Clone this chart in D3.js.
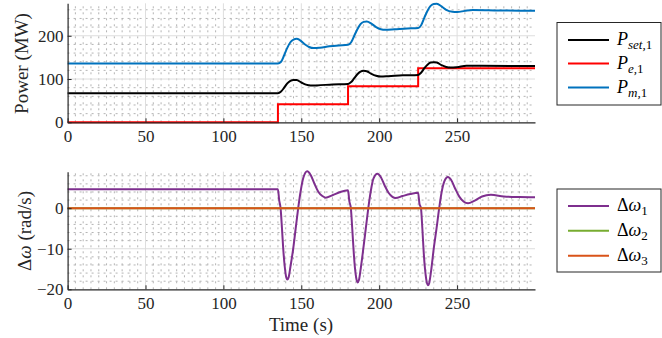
<!DOCTYPE html>
<html>
<head>
<meta charset="utf-8">
<script src="https://cdn.jsdelivr.net/npm/d3@7"></script>
<style>
  html, body { margin: 0; padding: 0; background: #fff; }
  svg { display: block; font-family: "Liberation Serif", "Times New Roman", serif; }
</style>
</head>
<body>
<svg id="chart" width="662" height="338"></svg>
<script>
// ---------------- DATA ----------------
const timeTicks = [0, 50, 100, 150, 200, 250];
const powerTicks = [0, 100, 200];
const omegaTicks = [-20, -10, 0];

// P_set,1 (black)
const pSet = [[0,67],[135,67],[137,71],[139,80],[141,90],[143,96],[145,98],[147,97.5],[150,92],[153,87],[156,85],[160,85.3],[170,87.5],[180,88.7],
  [182,93],[184,102],[186,111],[188,117],[190,119],[192,118],[195,112],[198,107.5],[201,105.6],[206,106.5],[215,108.5],[225,109.5],
  [227,115],[229,125],[231,133],[233,138],[235,139],[237,138],[240,132],[243,128],[246,126.4],[250,127.5],[256,130.8],[265,130.5],[300,130]];
// P_e,1 (red, steps)
const pE = [[0,0],[135,41.7],[180,83.3],[225,125],[300,125]];
// P_m,1 (blue)
const pM = [[0,136],[135,136],[137,140],[139,155],[141,172],[143,185],[145,191],[147,192.8],[149,190],[152,181],[155,174],[158,171.5],[162,172.5],[168,175.5],[174,177.5],[180,179],
  [182,185],[184,200],[186,215],[188,227],[190,232],[192,233],[195,228],[198,220],[201,215],[204,213.6],[210,215],[218,217],[225,218],
  [227,225],[229,242],[231,258],[233,269],[235,273.5],[237,274],[240,268],[243,260],[247,255.5],[250,254.8],[255,257.5],[260,259.5],[270,259],[280,258.2],[300,258]];
// Δω1 (purple)
const dw1 = [[0,4.7],[135,4.7],[135.8,2],[136.7,0],[137.6,-5],[138.4,-10],[139.4,-14.5],[140.2,-16.8],[141,-17.6],[141.9,-17],[143,-14.5],[144.8,-10],[146.4,-5],[148,0],[149.5,4],[151.3,7.5],[153.8,9.1],[156,8.2],[158.5,6],[161,4],[163.5,3],[165.6,2.6],[170,3.2],[175,4],[180,4.4],
  [180.8,1.8],[181.8,0],[182.7,-5],[183.5,-10],[184.4,-14.6],[185.2,-17.1],[186.1,-18.3],[187,-17.7],[188.1,-15],[189.8,-10],[191.4,-5],[193,0],[194.5,4],[196.3,7.3],[198.9,8.5],[201,7.7],[203.5,5.6],[206,3.8],[208.5,2.8],[210.5,2.5],[215,3],[220,3.5],[225,3.8],
  [225.8,1.2],[226.8,0],[227.7,-5],[228.5,-10.5],[229.4,-15],[230.3,-17.8],[231.3,-19],[232.2,-18.3],[233.3,-15.5],[235,-10],[236.8,-5],[238.5,0],[240,3.8],[241.8,6.6],[244.1,7.7],[246.3,6.9],[248.8,4.8],[251.5,2.8],[254.3,1.6],[257,1.2],[261,1.8],[266,2.9],[271.7,3.3],[280,2.9],[290,2.75],[300,2.7]];
// Δω2 (green) and Δω3 (orange)
const dw2 = [[0,0],[300,0]];
const dw3 = [[0,0],[300,0]];

// ---------------- LAYOUT ----------------
const svg = d3.select("#chart");
const x = d3.scaleLinear().domain([0, 300]).range([67.6, 535]);
const yTop = d3.scaleLinear().domain([0, 275]).range([122.3, 3.3]);
const yBot = d3.scaleLinear().domain([-20, 9]).range([289.3, 171.7]);

const tickFont = "17px";
const labelFont = "19px";

function drawGrid(g, y, majorY, minorStep, yMin, yMax) {
  const minorX = d3.range(0, 301, 5).filter(v => v % 50 !== 0);
  const minorY = d3.range(yMin, yMax + 0.001, minorStep).filter(v => !majorY.some(m => Math.abs(m - v) < 1e-6) && v > yMin);
  g.append("g").selectAll("line").data(minorX).join("line")
    .attr("x1", d => x(d)).attr("x2", d => x(d))
    .attr("y1", y.range()[0]).attr("y2", y.range()[1])
    .attr("stroke", "#b4b4b4").attr("stroke-width", 1).attr("stroke-dasharray", "2,4");
  g.append("g").selectAll("line").data(minorY).join("line")
    .attr("x1", x.range()[0]).attr("x2", x.range()[1])
    .attr("y1", d => y(d)).attr("y2", d => y(d))
    .attr("stroke", "#b4b4b4").attr("stroke-width", 1).attr("stroke-dasharray", "2,4");
  g.append("g").selectAll("line").data(timeTicks.filter(v => v > 0)).join("line")
    .attr("x1", d => x(d)).attr("x2", d => x(d))
    .attr("y1", y.range()[0]).attr("y2", y.range()[1])
    .attr("stroke", "#dedede").attr("stroke-width", 1);
  g.append("g").selectAll("line").data(majorY.filter(v => v > yMin)).join("line")
    .attr("x1", x.range()[0]).attr("x2", x.range()[1])
    .attr("y1", d => y(d)).attr("y2", d => y(d))
    .attr("stroke", "#dedede").attr("stroke-width", 1);
}

function drawAxes(g, y, yTicks) {
  const xa = g.append("g").attr("transform", `translate(0,${y.range()[0]})`)
    .call(d3.axisBottom(x).tickValues(timeTicks).tickSizeInner(-4).tickSizeOuter(0).tickPadding(8).tickFormat(d3.format("d")));
  const ya = g.append("g").attr("transform", `translate(${x.range()[0]},0)`)
    .call(d3.axisLeft(y).tickValues(yTicks).tickSizeInner(-4).tickSizeOuter(0).tickPadding(4).tickFormat(d3.format("d")));
  [xa, ya].forEach(a => {
    a.selectAll("text").attr("font-size", tickFont).attr("font-family", "Liberation Serif").attr("fill", "#262626");
    a.selectAll("line").attr("stroke", "#262626");
    a.select(".domain").attr("stroke", "#262626").attr("stroke-width", 1.2);
  });
}

// ---------- top panel ----------
const gTop = svg.append("g");
drawGrid(gTop, yTop, powerTicks, 20, 0, 275);
const lineTop = d3.line().x(d => x(d[0])).y(d => yTop(d[1])).curve(d3.curveMonotoneX);
const lineStep = d3.line().x(d => x(d[0])).y(d => yTop(d[1])).curve(d3.curveStepAfter);
gTop.append("path").datum(pE).attr("d", lineStep).attr("fill", "none").attr("stroke", "#ff0000").attr("stroke-width", 2);
gTop.append("path").datum(pSet).attr("d", lineTop).attr("fill", "none").attr("stroke", "#000000").attr("stroke-width", 2);
gTop.append("path").datum(pM).attr("d", lineTop).attr("fill", "none").attr("stroke", "#0072BD").attr("stroke-width", 2);
drawAxes(gTop, yTop, powerTicks);

// ---------- bottom panel ----------
const gBot = svg.append("g");
drawGrid(gBot, yBot, omegaTicks, 2, -20, 9);
const lineBot = d3.line().x(d => x(d[0])).y(d => yBot(d[1])).curve(d3.curveMonotoneX);
gBot.append("path").datum(dw1).attr("d", lineBot).attr("fill", "none").attr("stroke", "#7E2F8E").attr("stroke-width", 2);
gBot.append("path").datum(dw2).attr("d", lineBot).attr("fill", "none").attr("stroke", "#77AC30").attr("stroke-width", 2);
gBot.append("path").datum(dw3).attr("d", lineBot).attr("fill", "none").attr("stroke", "#D95319").attr("stroke-width", 2);
drawAxes(gBot, yBot, omegaTicks);

// ---------- axis labels ----------
svg.append("text").attr("transform", "translate(21.5,63.5) rotate(-90)")
  .attr("text-anchor", "middle").attr("dy", "0.32em").attr("font-size", labelFont).attr("fill", "#262626")
  .text("Power (MW)");
const wl = svg.append("text").attr("transform", "translate(25,231) rotate(-90)")
  .attr("text-anchor", "middle").attr("dy", "0.32em").attr("font-size", labelFont).attr("fill", "#262626");
wl.append("tspan").text("Δ");
wl.append("tspan").attr("font-style", "italic").text("ω");
wl.append("tspan").text(" (rad/s)");
svg.append("text").attr("x", 301).attr("y", 331).attr("text-anchor", "middle")
  .attr("font-size", labelFont).attr("fill", "#262626").text("Time (s)");

// ---------- legends ----------
function legend(box, items) {
  const g = svg.append("g");
  g.append("rect").attr("x", box.x).attr("y", box.y).attr("width", box.w).attr("height", box.h)
    .attr("fill", "#fff").attr("stroke", "#262626").attr("stroke-width", 1);
  items.forEach((it, i) => {
    const yy = box.rows[i];
    g.append("line").attr("x1", 568).attr("x2", 609).attr("y1", yy).attr("y2", yy)
      .attr("stroke", it.color).attr("stroke-width", 2);
    const t = g.append("text").attr("x", 617).attr("y", yy).attr("dy", "0.3em").attr("font-size", "18px").attr("fill", "#000");
    it.parts.forEach(p => {
      const s = t.append("tspan").text(p.t);
      if (p.it) s.attr("font-style", "italic");
      if (p.sub) s.attr("font-size", "13px").attr("baseline-shift", "-4");
    });
  });
}
legend({x: 557, y: 22.5, w: 104, h: 82.5, rows: [40, 63.5, 87.5]}, [
  {color: "#000000", parts: [{t: "P", it: true}, {t: "set,", it: true, sub: true}, {t: "1", sub: true}]},
  {color: "#ff0000", parts: [{t: "P", it: true}, {t: "e,", it: true, sub: true}, {t: "1", sub: true}]},
  {color: "#0072BD", parts: [{t: "P", it: true}, {t: "m,", it: true, sub: true}, {t: "1", sub: true}]}
]);
legend({x: 557, y: 189, w: 104, h: 83, rows: [206, 230.7, 255.7]}, [
  {color: "#7E2F8E", parts: [{t: "Δ"}, {t: "ω", it: true}, {t: "1", sub: true}]},
  {color: "#77AC30", parts: [{t: "Δ"}, {t: "ω", it: true}, {t: "2", sub: true}]},
  {color: "#D95319", parts: [{t: "Δ"}, {t: "ω", it: true}, {t: "3", sub: true}]}
]);
</script>
</body>
</html>
